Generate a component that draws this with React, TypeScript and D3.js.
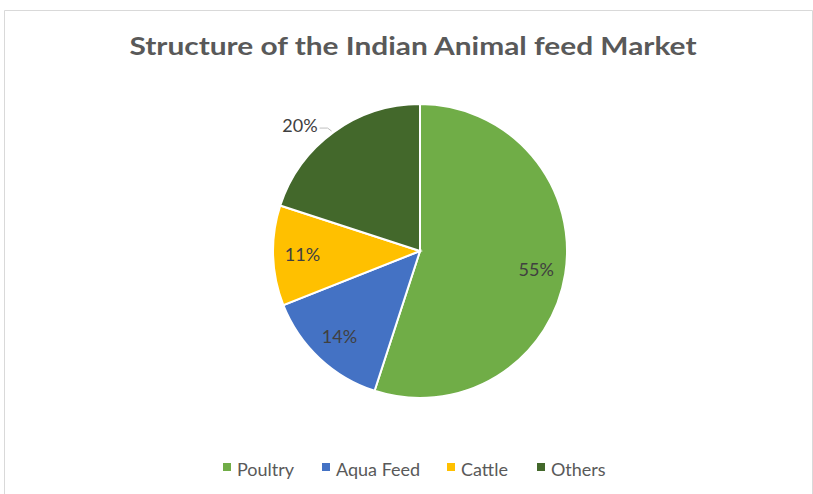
import React from "react";
import * as d3 from "d3";

const categories = ["Poultry", "Aqua Feed", "Cattle", "Others"];
const values = [55, 14, 11, 20];
const colors = ["#70AD47", "#4472C4", "#FFC000", "#43682B"];
const title = "Structure of the Indian Animal feed Market";

export default function App() {
  const W = 813, H = 494;
  const cx = 420, cy = 251, r = 147;
  const font = "Lato, 'Open Sans', sans-serif";
  const pie = d3.pie<number>().sort(null).value((d) => d)(values);
  const arc = d3.arc<d3.PieArcDatum<number>>().innerRadius(0).outerRadius(r);
  const labelArc = d3.arc<d3.PieArcDatum<number>>().innerRadius(r * 0.8).outerRadius(r * 0.8);
  const legendX = [223, 322, 447, 537];
  return (
    <svg width={W} height={H} style={{ position: "absolute", left: 0, top: 0 }}>
      <rect x={0} y={0} width={W} height={H} fill="#fff" />
      <path d={`M4.5,${H} V10.5 H812.5 V${H}`} fill="none" stroke="#d9d9d9" strokeWidth={1} />
      <text x={413} y={55} textAnchor="middle" fontFamily={font} fontWeight={700} fontSize={25} fill="#595959" textLength={567} lengthAdjust="spacingAndGlyphs">{title}</text>
      <g transform={`translate(${cx},${cy})`}>
        {pie.map((p, i) => (
          <path key={i} d={arc(p) || ""} fill={colors[i]} stroke="#fff" strokeWidth={2} />
        ))}
        {pie.map((p, i) => {
          if (i === 3) return null;
          const [x, y] = labelArc.centroid(p);
          return (
            <text key={"l" + i} x={x} y={y} dy="0.36em" textAnchor="middle" fontFamily={font} fontSize={18} fill="#404040">{values[i]}%</text>
          );
        })}
      </g>
      {(() => {
        const p = pie[3];
        const a = (p.startAngle + p.endAngle) / 2;
        const ex = cx + Math.sin(a) * r;
        const ey = cy - Math.cos(a) * r;
        return (
          <g>
            <polyline points={`${ex - 2},${ey - 1} ${ex - 6},${ey - 4} ${ex - 14},${ey - 4}`} fill="none" stroke="#bfbfbf" strokeWidth={1} />
            <text x={ex - 16} y={ey} textAnchor="end" fontFamily={font} fontSize={18} fill="#404040">{values[3]}%</text>
          </g>
        );
      })()}
      {categories.map((c, i) => (
        <g key={c}>
          <rect x={legendX[i]} y={463} width={8} height={8} fill={colors[i]} />
          <text x={legendX[i] + 14} y={476} fontFamily={font} fontSize={18} fill="#595959">{c}</text>
        </g>
      ))}
    </svg>
  );
}
